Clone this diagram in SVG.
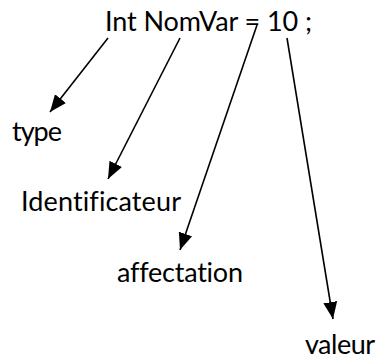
<svg xmlns="http://www.w3.org/2000/svg" width="381" height="359" viewBox="0 0 381 359">
  <style>
    .lbl { font-family: Lato, "Open Sans", "Liberation Sans", sans-serif; font-size: 27px; fill: #000; font-variant-ligatures: none; }
    .conn { stroke: #000; stroke-width: 1.6; fill: none; marker-end: url(#arrow); }
  </style>
  <defs>
    <!-- solid triangular arrowhead, tip at the line end -->
    <marker id="arrow" markerUnits="userSpaceOnUse" markerWidth="18" markerHeight="15" refX="17" refY="7" orient="auto">
      <path d="M0,0 L17,7 L0,14 z" fill="#000"/>
    </marker>
  </defs>
  <rect width="381" height="359" fill="#fff"/>

  <g id="statement"><text class="lbl" x="105" y="31" textLength="207" lengthAdjust="spacing">Int NomVar = 10 ;</text></g>
  <g id="type"><text class="lbl" x="12" y="141" textLength="50" lengthAdjust="spacing">type</text></g>
  <g id="identificateur"><text class="lbl" x="21" y="211" textLength="160" lengthAdjust="spacing">Identificateur</text></g>
  <g id="affectation"><text class="lbl" x="117" y="282" textLength="126" lengthAdjust="spacing">affectation</text></g>
  <g id="valeur"><text class="lbl" x="305" y="354" textLength="70" lengthAdjust="spacing">valeur</text></g>

  <g id="connectors">
    <line class="conn" x1="108" y1="38" x2="50" y2="112"/>
    <line class="conn" x1="180" y1="38" x2="108" y2="179"/>
    <line class="conn" x1="257" y1="25" x2="180" y2="250"/>
    <line class="conn" x1="287" y1="38" x2="333" y2="319"/>
  </g>
</svg>
